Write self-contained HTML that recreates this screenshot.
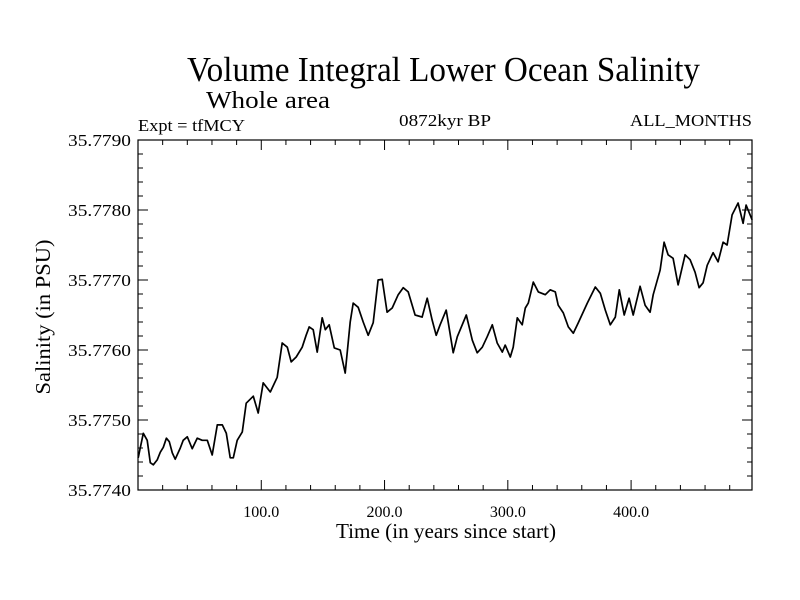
<!DOCTYPE html>
<html><head><meta charset="utf-8"><style>
html,body{margin:0;padding:0;background:#fff;}
svg{display:block;font-family:"Liberation Serif",serif;}
</style></head><body>
<svg id="chart" width="800" height="600" viewBox="0 0 800 600">
<text x="187" y="81" font-size="35" textLength="513" lengthAdjust="spacingAndGlyphs">Volume Integral Lower Ocean Salinity</text>
<text x="206" y="108" font-size="24" textLength="124" lengthAdjust="spacingAndGlyphs">Whole area</text>
<text x="138" y="131" font-size="17" textLength="107" lengthAdjust="spacingAndGlyphs">Expt = tfMCY</text>
<text x="399" y="126" font-size="17" textLength="92" lengthAdjust="spacingAndGlyphs">0872kyr BP</text>
<text x="630" y="126" font-size="17" textLength="122" lengthAdjust="spacingAndGlyphs">ALL_MONTHS</text>
<text transform="translate(50,317) rotate(-90)" font-size="21" text-anchor="middle" textLength="155" lengthAdjust="spacingAndGlyphs">Salinity (in PSU)</text>
<text x="446" y="538" font-size="21" text-anchor="middle" textLength="220" lengthAdjust="spacingAndGlyphs">Time (in years since start)</text>
<rect x="138" y="140" width="614" height="350" fill="none" stroke="#000" stroke-width="1.2"/>
<g id="axes"></g>
<g id="marks"></g>
</svg>
<script>
const years=[0.2,4.3,7.5,10,12.4,15.6,18.1,20.5,23,25.4,27.8,30.2,34.3,36.7,40,44,48,52.1,56.2,60.2,64.3,68.4,71.6,74.8,77.3,80.5,84.6,87.8,93.5,97.5,101.6,107.3,112.9,117,121.1,124.3,128.3,133.2,136.4,138.9,142.1,145.4,149.4,151.9,155.1,159.2,164,168.1,172.1,174.6,178.6,182.7,186.7,190.8,194.8,198.1,202.1,206.2,211.1,215.1,219.2,224.8,230.5,234.6,238.6,241.9,245.1,250,251.7,255.7,259,266.3,271.2,275.2,279.3,283.3,287.4,291.4,295.5,297.9,302,304.4,307.7,311.7,314.2,316.6,320.7,324.7,330.4,334.4,338.5,340.9,345,349.1,353.1,357.2,364.5,371,375,379.1,383.1,387.2,390.4,394.4,398.4,401.7,407.3,411.4,415.4,417.9,423.5,426.8,430,434.1,438.1,443.8,447.9,451.9,455.2,458.4,461.7,466.5,470.6,474.6,477.9,481.9,486.8,490.9,493.3,498.2];
const salinity=[35.77446,35.77481,35.77471,35.77439,35.77436,35.77443,35.77454,35.77461,35.77474,35.77469,35.77453,35.77444,35.7746,35.77471,35.77476,35.77459,35.77474,35.77471,35.77471,35.7745,35.77493,35.77493,35.77481,35.77446,35.77446,35.77471,35.77483,35.77524,35.77534,35.7751,35.77553,35.7754,35.77561,35.7761,35.77604,35.77583,35.7759,35.77604,35.77621,35.77633,35.77629,35.77597,35.77646,35.77629,35.77636,35.77603,35.776,35.77567,35.7764,35.77667,35.77661,35.7764,35.77621,35.77639,35.777,35.77701,35.77654,35.7766,35.77679,35.77689,35.77683,35.7765,35.77647,35.77674,35.77643,35.77621,35.77636,35.77657,35.77639,35.77596,35.77619,35.7765,35.77614,35.77596,35.77604,35.77619,35.77636,35.7761,35.77597,35.77607,35.7759,35.77604,35.77646,35.77636,35.7766,35.77667,35.77697,35.77683,35.77679,35.77686,35.77683,35.77664,35.77653,35.77633,35.77624,35.77639,35.77667,35.7769,35.77681,35.77657,35.77636,35.77647,35.77686,35.7765,35.77674,35.7765,35.77691,35.77664,35.77654,35.77679,35.77714,35.77754,35.77736,35.77731,35.77693,35.77736,35.77729,35.77711,35.77689,35.77696,35.77721,35.77739,35.77726,35.77754,35.7775,35.77793,35.7781,35.77781,35.77807,35.77786];
const xTickValues=[100,200,300,400];
const xTickLabels=["100.0","200.0","300.0","400.0"];
const yTickValues=[35.774,35.775,35.776,35.777,35.778,35.779];
const yTickLabels=["35.7740","35.7750","35.7760","35.7770","35.7780","35.7790"];
const X0=138,X1=752,Y0=490,Y1=140,XMIN=0,XMAX=(752-137.7)/1.23333,YMIN=35.774,YMAX=35.779;
const sx=v=>X0+(v-XMIN)/(XMAX-XMIN)*(X1-X0);
const sy=v=>Y0-(v-YMIN)/(YMAX-YMIN)*(Y0-Y1);
const NS="http://www.w3.org/2000/svg";
const axes=document.getElementById('axes');
function ln(x1,y1,x2,y2,name){const l=document.createElementNS(NS,'line');
l.setAttribute('x1',x1);l.setAttribute('y1',y1);l.setAttribute('x2',x2);l.setAttribute('y2',y2);
l.setAttribute('stroke','#000');l.setAttribute('stroke-width','1');


axes.appendChild(l);}
function tx(x,y,s,anchor,name,size,len){const t=document.createElementNS(NS,'text');
t.setAttribute('x',x);t.setAttribute('y',y);t.setAttribute('font-size',size);t.setAttribute('text-anchor',anchor);t.textContent=s;
if(len){t.setAttribute('textLength',len);t.setAttribute('lengthAdjust','spacingAndGlyphs');}


axes.appendChild(t);}
for(let v=20;v<XMAX;v+=20){const x=sx(v);const major=v%100===0;const L=major?10:5;
ln(x,Y0,x,Y0-L,'x-tick');ln(x,Y1,x,Y1+L,'x-tick-top');}
for(let i=0;i<=25;i++){const v=YMIN+i*0.0002;const y=sy(v);const major=i%5===0;const L=major?10:5;
ln(X0,y,X0+L,y,'y-tick');ln(X1,y,X1-L,y,'y-tick-right');}
xTickValues.forEach((v,i)=>tx(sx(v),517,xTickLabels[i],'middle','x-tick-label','16',0));
yTickValues.forEach((v,i)=>tx(131,sy(v)+6,yTickLabels[i],'end','y-tick-label','17',63));
const p=document.createElementNS(NS,'polyline');
p.setAttribute('points',years.map((y,i)=>sx(y).toFixed(1)+','+sy(salinity[i]).toFixed(1)).join(' '));
p.setAttribute('fill','none');p.setAttribute('stroke','#000');p.setAttribute('stroke-width','1.7');p.setAttribute('stroke-linejoin','round');


document.getElementById('marks').appendChild(p);
</script>
</body></html>
